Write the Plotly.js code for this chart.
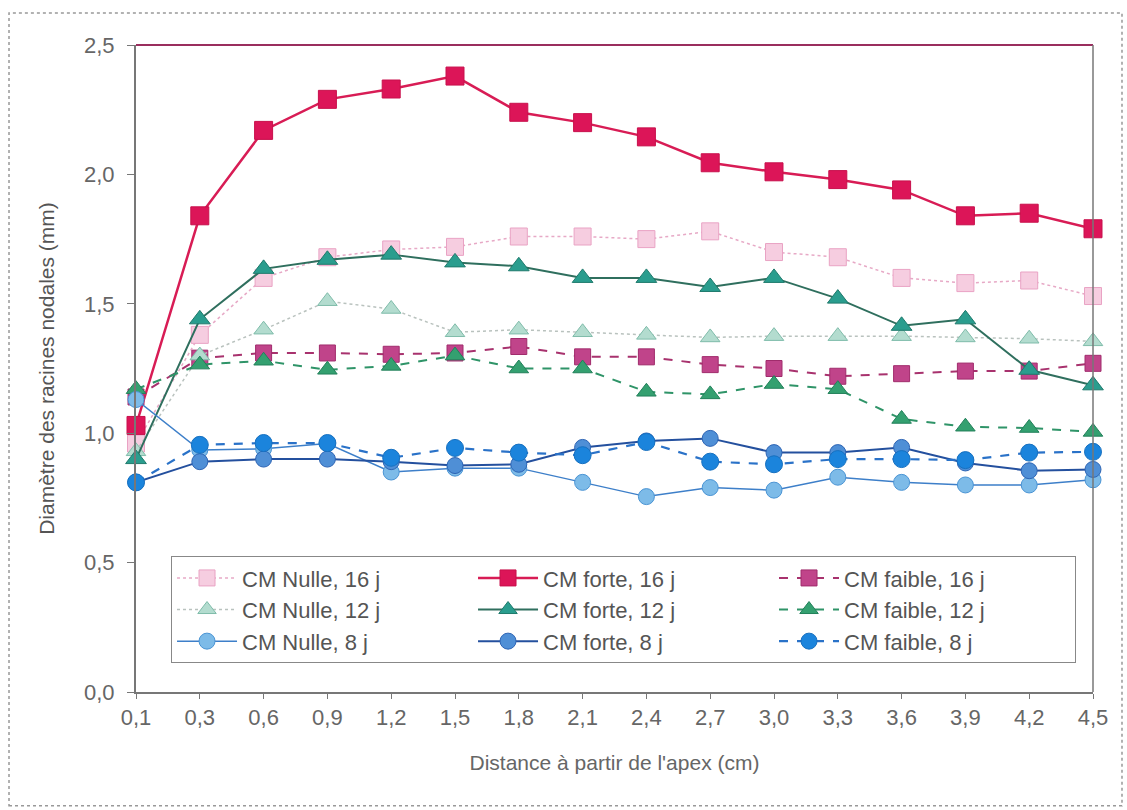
<!DOCTYPE html>
<html>
<head>
<meta charset="utf-8">
<script src="https://cdn.plot.ly/plotly-3.0.1.min.js"></script>
<style>html,body{margin:0;padding:0;background:#fff;}#chart{width:1127px;height:810px;}</style>
</head>
<body>
<div id="chart"></div>
<script>
const distances = ["0,1","0,3","0,6","0,9","1,2","1,5","1,8","2,1","2,4","2,7","3,0","3,3","3,6","3,9","4,2","4,5"];

const nulle16  = [0.96,1.38,1.60,1.68,1.71,1.72,1.76,1.76,1.75,1.78,1.70,1.68,1.60,1.58,1.59,1.53];
const forte16  = [1.03,1.84,2.17,2.29,2.33,2.38,2.24,2.20,2.145,2.045,2.01,1.98,1.94,1.84,1.85,1.79];
const faible16 = [1.14,1.29,1.31,1.31,1.305,1.31,1.335,1.295,1.295,1.265,1.25,1.22,1.23,1.24,1.24,1.27];

const nulle12  = [0.93,1.30,1.40,1.51,1.48,1.39,1.40,1.39,1.38,1.37,1.375,1.375,1.375,1.37,1.365,1.355];
const forte12  = [0.90,1.44,1.635,1.67,1.69,1.66,1.645,1.60,1.60,1.565,1.60,1.52,1.415,1.44,1.245,1.185];
const faible12 = [1.17,1.265,1.28,1.245,1.26,1.30,1.25,1.25,1.16,1.15,1.19,1.17,1.055,1.025,1.02,1.005];

const nulle8   = [1.13,0.935,0.94,0.96,0.85,0.865,0.865,0.81,0.755,0.79,0.78,0.83,0.81,0.80,0.80,0.82];
const forte8   = [0.81,0.89,0.90,0.90,0.89,0.875,0.88,0.945,0.97,0.98,0.925,0.925,0.945,0.885,0.855,0.86];
const faible8  = [0.81,0.955,0.962,0.962,0.905,0.943,0.925,0.915,0.966,0.89,0.88,0.90,0.90,0.896,0.925,0.928];

const yTicks = [0,0.5,1,1.5,2,2.5];

function tr(name, y, lineColor, dash, width, symbol, mColor, mLine, size) {
  return {
    type: 'scatter', mode: 'lines+markers', name: name,
    x: distances, y: y, cliponaxis: false,
    line: {color: lineColor, dash: dash, width: width},
    marker: {symbol: symbol, color: mColor, size: size, line: {color: mLine, width: 1}}
  };
}

const data = [
  tr('CM Nulle, 16 j', nulle16, '#e7a9c6', 'dot', 1.5, 'square', '#f6cde0', '#e9a3c4', 17),
  tr('CM forte, 16 j', forte16, '#d81c55', 'solid', 2.5, 'square', '#dc1558', '#c8104c', 18),
  tr('CM faible, 16 j', faible16, '#a8326e', 'dash', 2, 'square', '#c0448a', '#a02c6c', 16),
  tr('CM Nulle, 12 j', nulle12, '#b9c2be', 'dot', 1.5, 'triangle-up', '#b3dccf', '#7fbcaa', 17),
  tr('CM forte, 12 j', forte12, '#2f6f5e', 'solid', 2, 'triangle-up', '#2a9d8e', '#1f7a6c', 18),
  tr('CM faible, 12 j', faible12, '#2f9468', 'dash', 2, 'triangle-up', '#34a070', '#22805a', 17),
  tr('CM Nulle, 8 j', nulle8, '#3d7fc9', 'solid', 1.5, 'circle', '#7dbbe8', '#4a94d4', 16),
  tr('CM forte, 8 j', forte8, '#24509e', 'solid', 2, 'circle', '#4f8fd6', '#2d64b4', 16),
  tr('CM faible, 8 j', faible8, '#2a72c8', 'dash', 2.2, 'circle', '#1b84dc', '#1670c0', 17)
];

const layout = {
  width: 1127, height: 810,
  margin: {l: 136, r: 34, t: 45, b: 118},
  paper_bgcolor: '#fff', plot_bgcolor: '#fff',
  separators: ', ',
  font: {family: 'Liberation Sans, Arial, sans-serif', color: '#555', size: 22},
  showlegend: true,
  legend: {
    orientation: 'h', x: 0.0366, y: 0.21, xanchor: 'left', yanchor: 'top',
    bgcolor: '#fff', bordercolor: '#888', borderwidth: 1,
    entrywidth: 226, entrywidthmode: 'pixels', itemwidth: 60,
    font: {size: 22, color: '#555'}, tracegroupgap: 0, traceorder: 'normal'
  },
  xaxis: {
    type: 'category', range: [0, 15],
    showline: true, linecolor: '#777', linewidth: 2,
    ticks: 'outside', ticklen: 5, tickcolor: '#777',
    ticklabelstandoff: 0,
    showgrid: false, zeroline: false,
    tickfont: {size: 22, color: '#666'},
    title: {text: "Distance à partir de l'apex (cm)", font: {size: 21, color: '#666'}, standoff: 26}
  },
  yaxis: {
    range: [0, 2.5], tickvals: yTicks, tickformat: '.1f',
    showline: true, linecolor: '#777', linewidth: 2,
    ticks: 'outside', ticklen: 7, tickcolor: '#777',
    ticklabelstandoff: 8,
    showgrid: false, zeroline: false,
    tickfont: {size: 22, color: '#666'},
    title: {text: 'Diamètre des racines nodales (mm)', font: {size: 21, color: '#555'}, standoff: 24}
  },
  shapes: [
    {type: 'line', xref: 'paper', yref: 'paper', x0: 0, x1: 1, y0: 1, y1: 1, line: {color: '#9a2e5e', width: 2}},
    {type: 'line', xref: 'paper', yref: 'paper', x0: 1, x1: 1, y0: 0, y1: 1, line: {color: '#777', width: 1.5}},
    {type: 'rect', xref: 'paper', yref: 'paper', x0: -0.1327, x1: 1.0303, y0: -0.176, y1: 1.0495,
     line: {color: '#999', width: 1.5, dash: 'dot'}, layer: 'below'}
  ]
};

Plotly.newPlot('chart', data, layout, {displayModeBar: false, staticPlot: true});
</script>
</body>
</html>
